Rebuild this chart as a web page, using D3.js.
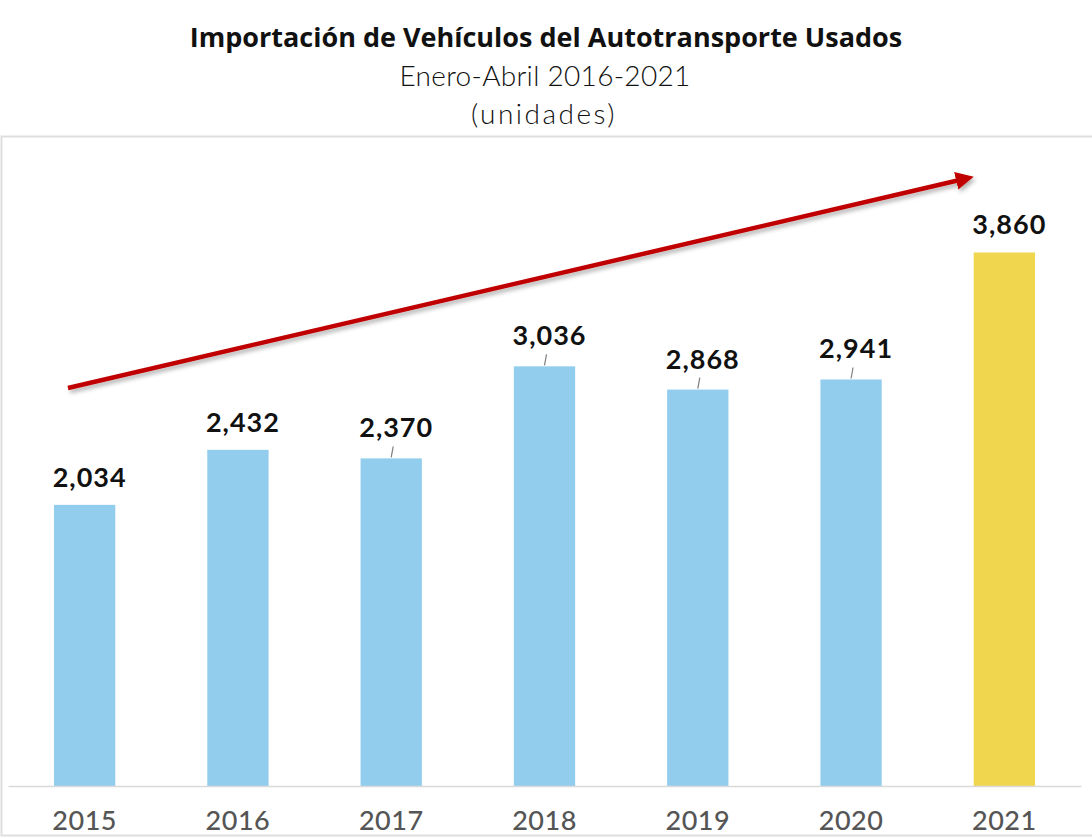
<!DOCTYPE html>
<html>
<head>
<meta charset="utf-8">
<script src="https://cdn.jsdelivr.net/npm/d3@7"></script>
<style>
  body { margin: 0; background: #fff; }
  svg { display: block; }
</style>
</head>
<body>
<svg id="chart"></svg>
<script>
const years = ['2015', '2016', '2017', '2018', '2019', '2020', '2021'];
const units = [2034, 2432, 2370, 3036, 2868, 2941, 3860];
const highlight = ['2021'];
const leaders = ['2017', '2018', '2019', '2020'];

const width = 1092, height = 838;
const svg = d3.select('#chart').attr('width', width).attr('height', height);

// frame
svg.append('rect')
  .attr('x', 1.5).attr('y', 136.5)
  .attr('width', width + 10).attr('height', 699)
  .attr('fill', 'none').attr('stroke', '#dedede').attr('stroke-width', 2);

// titles
const titles = svg.append('g').attr('text-anchor', 'middle').attr('fill', '#111');
titles.append('text').attr('x', 546).attr('y', 47)
  .style('font', 'bold 27px "Open Sans", sans-serif').text('Importación de Vehículos del Autotransporte Usados');
titles.append('text').attr('x', 545).attr('y', 86)
  .style('font', '300 28px Lato, sans-serif').style('letter-spacing', '0.3px').text('Enero-Abril 2016-2021');
titles.append('text').attr('x', 544).attr('y', 124)
  .style('font', '300 28px Lato, sans-serif').style('letter-spacing', '2.5px').text('(unidades)');

const x = d3.scaleBand().domain(years).range([8, 1081]).paddingInner(0.6).paddingOuter(0.3);
const y = d3.scaleLinear().domain([0, 4500]).range([786, 164]);

// bars
svg.append('g').selectAll('rect')
  .data(years)
  .join('rect')
  .attr('x', d => x(d))
  .attr('y', (d, i) => y(units[i]))
  .attr('width', x.bandwidth())
  .attr('height', (d, i) => y(0) - y(units[i]))
  .attr('fill', d => highlight.includes(d) ? '#f0d64e' : '#92cdee');

// leader lines
svg.append('g').selectAll('line')
  .data(years.filter(d => leaders.includes(d)))
  .join('line')
  .attr('x1', d => x(d) + x.bandwidth() / 2)
  .attr('x2', d => x(d) + x.bandwidth() / 2 + 2)
  .attr('y1', d => y(units[years.indexOf(d)]) - 1)
  .attr('y2', d => y(units[years.indexOf(d)]) - 12)
  .attr('stroke', '#7f7f7f').attr('stroke-width', 1.2);

// value labels
svg.append('g').selectAll('text')
  .data(years)
  .join('text')
  .attr('x', d => x(d) + x.bandwidth() / 2 + 5)
  .attr('y', (d, i) => y(units[i]) - (leaders.includes(d) ? 21 : 18))
  .attr('text-anchor', 'middle')
  .attr('fill', '#111')
  .style('font', 'bold 27px Lato, sans-serif')
  .style('letter-spacing', '1px')
  .text((d, i) => d3.format(',')(units[i]));

// axis
const axis = svg.append('g').attr('transform', `translate(0,${y(0)})`)
  .call(d3.axisBottom(x).tickSize(0).tickPadding(18));
axis.select('.domain').attr('stroke', '#d9d9d9').attr('stroke-width', 1.5);
axis.selectAll('text')
  .attr('fill', '#555')
  .style('font', '500 27px Lato, sans-serif')
  .style('letter-spacing', '0.5px')
  .attr('dy', '0.95em');

// trend arrow
const defs = svg.append('defs');
defs.append('filter').attr('id', 'shadow')
  .append('feDropShadow').attr('dx', 2).attr('dy', 3).attr('stdDeviation', 2)
  .attr('flood-color', '#000').attr('flood-opacity', 0.3);
defs.append('marker').attr('id', 'head')
  .attr('viewBox', '0 0 10 10').attr('refX', 2).attr('refY', 5)
  .attr('markerWidth', 4).attr('markerHeight', 4).attr('orient', 'auto')
  .append('path').attr('d', 'M0,0L10,5L0,10z').attr('fill', '#c00000');

svg.append('line')
  .attr('x1', x('2015') + 14).attr('y1', 388)
  .attr('x2', x('2021') - 14).attr('y2', 180)
  .attr('stroke', '#c00000').attr('stroke-width', 4.5)
  .attr('marker-end', 'url(#head)')
  .attr('filter', 'url(#shadow)');
</script>
</body>
</html>
